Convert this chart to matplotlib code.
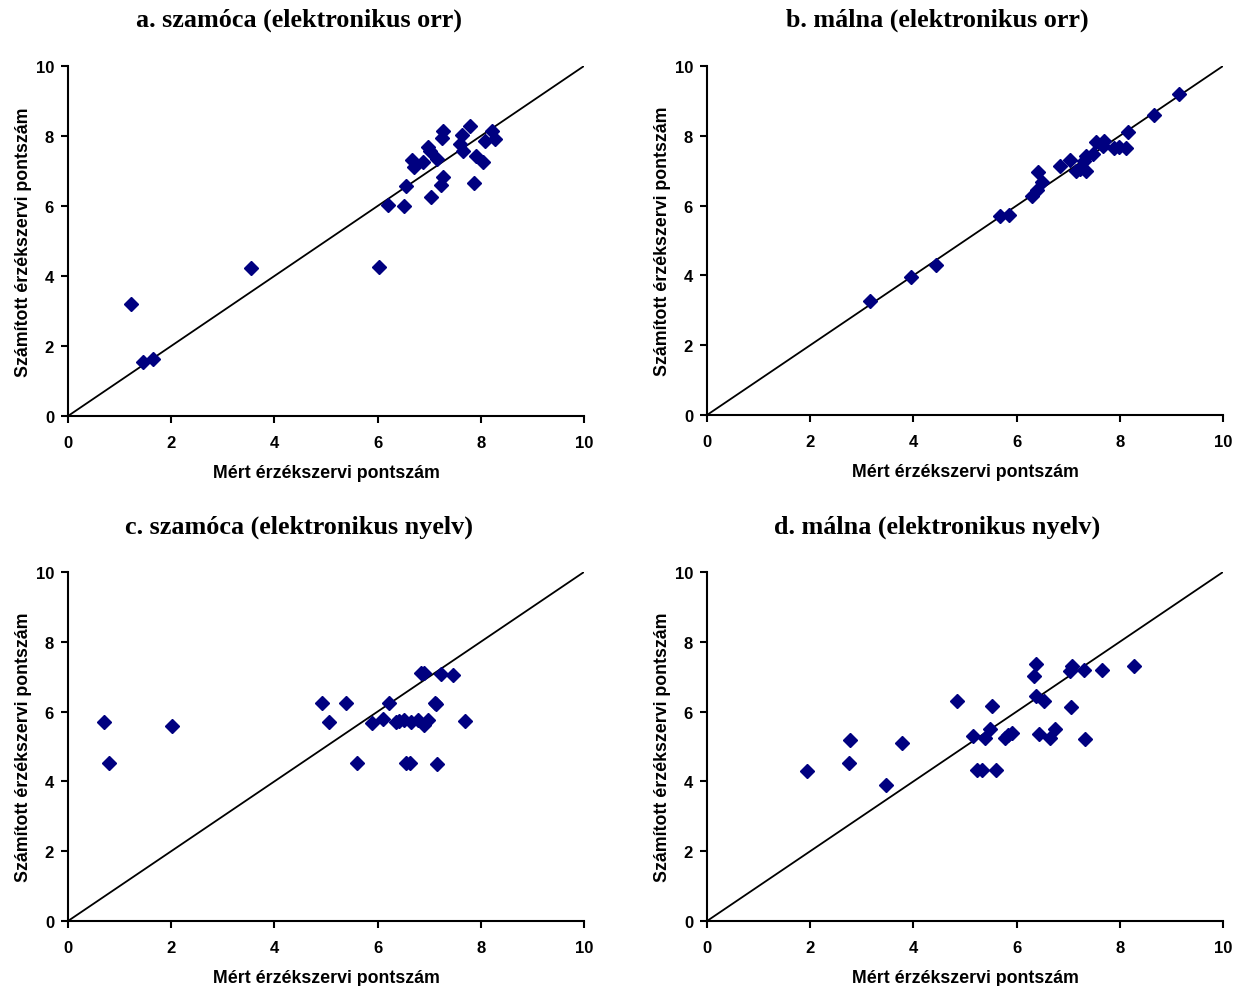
import matplotlib.pyplot as plt
import numpy as np

# a. szamóca, elektronikus orr
a_mert = [7.79, 7.27, 7.25, 7.64, 7.60, 7.66, 8.22, 8.28, 8.08, 6.98, 7.02, 6.67,
          6.71, 6.88, 7.15, 7.91, 8.04, 6.55, 7.27, 7.22, 7.87, 7.03, 6.20, 6.51,
          6.02, 3.54, 1.23, 1.46, 1.64]
a_szam = [8.30, 8.14, 7.94, 8.03, 7.77, 7.57, 8.14, 7.91, 7.86, 7.69, 7.57, 7.31,
          7.11, 7.26, 7.34, 7.43, 7.26, 6.57, 6.83, 6.60, 6.66, 6.26, 6.03, 6.00,
          4.27, 4.22, 3.20, 1.53, 1.63]

# b. málna, elektronikus orr
b_mert = [9.15, 8.66, 8.15, 8.12, 7.89, 7.54, 7.69, 7.68, 7.49, 7.34, 7.31, 7.35,
          7.16, 7.03, 6.84, 6.42, 6.49, 6.39, 6.29, 5.68, 5.86, 4.43, 3.95, 3.16,
          7.98, 7.23]
b_szam = [9.20, 8.60, 8.12, 7.65, 7.65, 7.81, 7.84, 7.70, 7.49, 7.43, 7.27, 6.98,
          6.98, 7.31, 7.14, 6.95, 6.69, 6.46, 6.27, 5.71, 5.74, 4.29, 3.95, 3.26,
          7.67, 7.05]

# c. szamóca, elektronikus nyelv
c_mert = [6.90, 7.22, 7.46, 6.85, 4.93, 5.38, 6.22, 7.11, 5.06, 5.90, 6.10, 6.36,
          6.52, 6.64, 6.79, 6.90, 6.98, 7.69, 5.61, 6.56, 7.16, 0.70, 2.01, 0.80,
          6.42, 7.13, 6.63]
c_szam = [7.11, 7.09, 7.06, 7.10, 6.25, 6.25, 6.25, 6.25, 5.69, 5.66, 5.79, 5.69,
          5.77, 5.69, 5.75, 5.63, 5.77, 5.72, 4.53, 4.53, 4.51, 5.69, 5.60, 4.53,
          5.72, 6.22, 4.53]

# d. málna, elektronikus nyelv
d_mert = [1.93, 2.77, 2.76, 3.46, 3.78, 4.84, 5.15, 5.24, 6.37, 6.34, 7.07, 7.03,
          7.31, 7.66, 8.28, 6.38, 6.54, 7.05, 5.52, 5.48, 5.84, 5.92, 5.78, 6.44,
          6.74, 6.65, 7.33, 5.32, 5.60, 5.39]
d_szam = [4.29, 5.18, 4.53, 3.91, 5.11, 6.29, 5.29, 4.32, 7.37, 7.01, 7.31, 7.15,
          7.18, 7.20, 7.31, 6.44, 6.29, 6.13, 6.17, 5.50, 5.34, 5.39, 5.25, 5.36,
          5.50, 5.25, 5.22, 4.33, 4.34, 5.23]

panels = [
    ('a. szamóca (elektronikus orr)', a_mert, a_szam),
    ('b. málna (elektronikus orr)', b_mert, b_szam),
    ('c. szamóca (elektronikus nyelv)', c_mert, c_szam),
    ('d. málna (elektronikus nyelv)', d_mert, d_szam),
]

W, H = 1242, 987
# axes boxes in pixels: left, top, right, bottom
boxes = [(68, 67, 584, 417), (707, 67, 1223, 416),
         (68, 573, 584, 922), (707, 573, 1223, 922)]
title_pos = [(299, 20), (937, 20), (299, 527), (937, 527)]

plt.rcParams['font.family'] = 'Liberation Sans'
fig = plt.figure(figsize=(W / 100, H / 100), dpi=100)

for (title, xs, ys), (l, t, r, b), (tx, ty) in zip(panels, boxes, title_pos):
    ax = fig.add_axes([l / W, 1 - b / H, (r - l) / W, (b - t) / H])
    ax.plot([0, 10], [0, 10], color='black', lw=1.3, zorder=1)
    ax.plot(xs, ys, linestyle='none', marker='D', ms=7,
            color='#000080', mec='#000080', zorder=2, clip_on=False)
    ax.set_xlim(0, 10)
    ax.set_ylim(0, 10)
    ax.set_xticks(np.arange(0, 11, 2))
    ax.set_yticks(np.arange(0, 11, 2))
    for s in ['top', 'right']:
        ax.spines[s].set_visible(False)
    for s in ['left', 'bottom']:
        ax.spines[s].set_linewidth(1.5)
    ax.tick_params(direction='out', length=5, width=1.5, labelsize=12)
    ax.tick_params(axis='x', pad=9)
    ax.tick_params(axis='y', pad=5)
    for lab in ax.get_xticklabels() + ax.get_yticklabels():
        lab.set_fontweight('bold')
    ax.set_xlabel('Mért érzékszervi pontszám', fontsize=12.8,
                  fontweight='bold', labelpad=10)
    ax.set_ylabel('Számított érzékszervi pontszám', fontsize=12.8,
                  fontweight='bold', labelpad=3)
    fig.text(tx / W, 1 - ty / H, title, ha='center', va='center',
             fontsize=18.8, fontweight='bold', family='Liberation Serif')

fig.savefig('out.png', dpi=100)
